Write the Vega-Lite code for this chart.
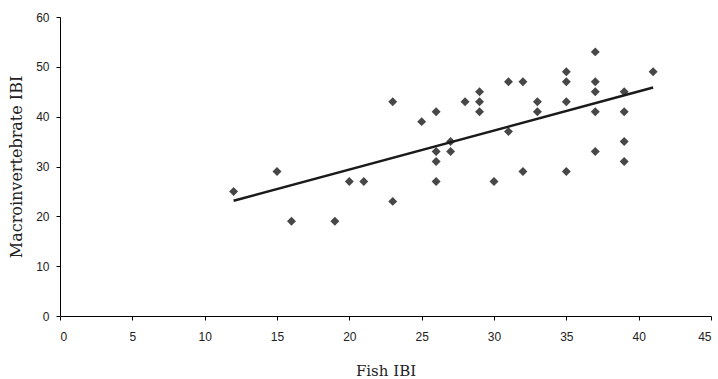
{
  "$schema": "https://vega.github.io/schema/vega-lite/v6.json",
  "width": 651,
  "height": 299,
  "autosize": {"type": "none"},
  "padding": {"left": 60, "top": 17, "right": 7, "bottom": 63},
  "background": "white",
  "config": {"view": {"stroke": null}},
  "data": {"values": [
    {"fish": 12, "macro": 25}, {"fish": 15, "macro": 29}, {"fish": 16, "macro": 19},
    {"fish": 19, "macro": 19}, {"fish": 20, "macro": 27}, {"fish": 21, "macro": 27},
    {"fish": 23, "macro": 43}, {"fish": 23, "macro": 23}, {"fish": 25, "macro": 39},
    {"fish": 26, "macro": 41}, {"fish": 26, "macro": 33}, {"fish": 26, "macro": 31},
    {"fish": 26, "macro": 27}, {"fish": 27, "macro": 35}, {"fish": 27, "macro": 33},
    {"fish": 28, "macro": 43}, {"fish": 29, "macro": 45}, {"fish": 29, "macro": 43},
    {"fish": 29, "macro": 41}, {"fish": 30, "macro": 27}, {"fish": 31, "macro": 47},
    {"fish": 31, "macro": 37}, {"fish": 32, "macro": 47}, {"fish": 32, "macro": 29},
    {"fish": 33, "macro": 43}, {"fish": 33, "macro": 41}, {"fish": 35, "macro": 49},
    {"fish": 35, "macro": 47}, {"fish": 35, "macro": 43}, {"fish": 35, "macro": 29},
    {"fish": 37, "macro": 53}, {"fish": 37, "macro": 47}, {"fish": 37, "macro": 45},
    {"fish": 37, "macro": 41}, {"fish": 37, "macro": 33}, {"fish": 39, "macro": 45},
    {"fish": 39, "macro": 41}, {"fish": 39, "macro": 35}, {"fish": 39, "macro": 31},
    {"fish": 41, "macro": 49}
  ]},
  "encoding": {
    "x": {
      "field": "fish", "type": "quantitative",
      "scale": {"domain": [0, 45], "nice": false, "zero": true},
      "axis": {
        "title": "Fish IBI", "values": [0, 5, 10, 15, 20, 25, 30, 35, 40, 45],
        "grid": false, "domainColor": "#000000", "tickColor": "#000000", "tickSize": 4,
        "labelFont": "Liberation Sans", "labelFontSize": 12, "labelColor": "#222222", "labelPadding": 11,
        "titleFont": "DejaVu Serif", "titleFontSize": 15, "titleFontWeight": "normal", "titleColor": "#222222",
        "titlePadding": 21
      }
    },
    "y": {
      "field": "macro", "type": "quantitative",
      "scale": {"domain": [0, 60], "nice": false},
      "axis": {
        "title": "Macroinvertebrate IBI", "values": [0, 10, 20, 30, 40, 50, 60],
        "grid": false, "domainColor": "#000000", "tickColor": "#000000", "tickSize": 4,
        "labelFont": "Liberation Sans", "labelFontSize": 12, "labelColor": "#222222", "labelPadding": 7,
        "titleFont": "DejaVu Serif", "titleFontSize": 16, "titleFontWeight": "normal", "titleColor": "#222222",
        "titlePadding": 11
      }
    }
  },
  "layer": [
    {
      "mark": {"type": "point", "shape": "diamond", "filled": true, "size": 80, "color": "#474747", "opacity": 1}
    },
    {
      "transform": [{"regression": "macro", "on": "fish", "extent": [12, 41]}],
      "mark": {"type": "line", "color": "#1a1a1a", "strokeWidth": 2.5}
    }
  ]
}
